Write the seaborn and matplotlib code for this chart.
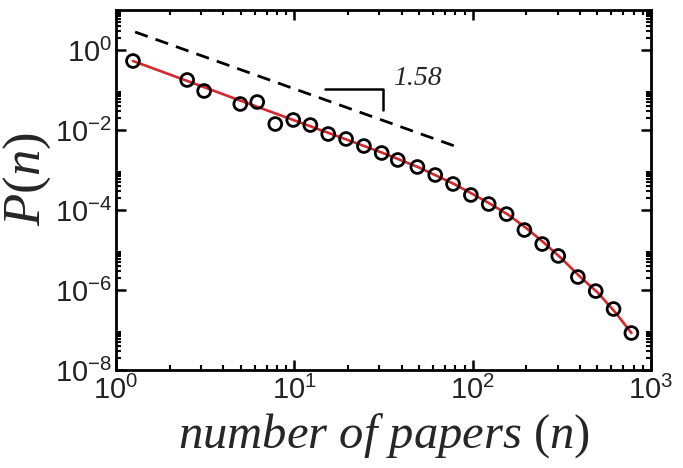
import matplotlib
matplotlib.use("Agg")
import matplotlib.pyplot as plt
import matplotlib.ticker as mticker
import seaborn as sns

# ---- data ----
n_papers = [1.245, 2.506, 3.119, 4.977, 6.194, 7.816, 9.863, 12.30, 15.49, 19.50,
            24.55, 30.90, 38.02, 48.98, 61.66, 77.62, 97.72, 123.0, 154.9, 195.0,
            245.5, 302.0, 389.0, 489.8, 616.6, 776.2]
p_n = [0.531, 0.178, 0.0944, 0.0447, 0.0501, 0.0141, 0.0178, 0.0133, 0.00794, 0.00596,
       0.00398, 0.00266, 0.00178, 0.00119, 7.5e-4, 4.47e-4, 2.37e-4, 1.41e-4, 7.9e-5, 3.16e-5,
       1.41e-5, 7.1e-6, 2.11e-6, 9.4e-7, 3.35e-7, 8.4e-8]

fit_x = [1.245, 2.512, 5.012, 10.0, 19.95, 31.62, 50.12, 79.43, 100.0, 125.9,
         158.5, 199.5, 251.2, 316.2, 398.1, 501.2, 631.0, 776.2]
fit_y = [0.531, 0.168, 0.0537, 0.0174, 0.00562, 0.00263, 0.00115, 4.37e-4, 2.51e-4, 1.41e-4,
         7.59e-5, 3.55e-5, 1.51e-5, 6.03e-6, 2.19e-6, 8.71e-7, 2.75e-7, 8.41e-8]

guide_x = [1.28, 85.1]
guide_y = [2.82, 0.00355]

bracket_x = [14.9, 31.4, 31.4]
bracket_y = [0.106, 0.106, 0.0316]
slope_label = "1.58"

x_ticks = [1, 10, 100, 1000]
x_ticklabels = [r"$\mathregular{10^{0}}$", r"$\mathregular{10^{1}}$",
                r"$\mathregular{10^{2}}$", r"$\mathregular{10^{3}}$"]
y_ticks = [1e-8, 1e-6, 1e-4, 1e-2, 1e0]
y_ticklabels = [r"$\mathregular{10^{-8}}$", r"$\mathregular{10^{-6}}$",
                r"$\mathregular{10^{-4}}$", r"$\mathregular{10^{-2}}$",
                r"$\mathregular{10^{0}}$"]

# ---- style ----
sns.set_style("ticks")
plt.rcParams["font.family"] = ["Liberation Sans", "DejaVu Sans"]
plt.rcParams["mathtext.fontset"] = "custom"
plt.rcParams["mathtext.it"] = "Liberation Serif:italic"
plt.rcParams["mathtext.rm"] = "Liberation Serif"

fig = plt.figure(figsize=(6.83, 4.68), dpi=100)
ax = fig.add_axes([116 / 683, 98 / 468, 535 / 683, 360 / 468])

red = "#d9262b"
sns.lineplot(x=fit_x, y=fit_y, ax=ax, color=red, lw=1.9, estimator=None, sort=False, zorder=2)
sns.lineplot(x=guide_x, y=guide_y, ax=ax, color="black", lw=2.0, estimator=None,
             sort=False, zorder=2)
ax.lines[-1].set_dashes([4.8, 3.0])
sns.lineplot(x=bracket_x, y=bracket_y, ax=ax, color="black", lw=1.8, estimator=None,
             sort=False, zorder=2)
sns.scatterplot(x=n_papers, y=p_n, ax=ax, marker="o", s=85, facecolor="none",
                edgecolor="black", linewidth=2.0, zorder=3)

ax.set_xscale("log")
ax.set_yscale("log")
ax.set_xlim(1, 1000)
ax.set_ylim(1e-8, 10)

ax.xaxis.set_major_locator(mticker.FixedLocator(x_ticks))
ax.xaxis.set_major_formatter(mticker.FixedFormatter(x_ticklabels))
ax.xaxis.set_minor_locator(mticker.LogLocator(base=10, subs=range(2, 10)))
ax.xaxis.set_minor_formatter(mticker.NullFormatter())

ax.yaxis.set_major_locator(mticker.FixedLocator(y_ticks))
ax.yaxis.set_major_formatter(mticker.FixedFormatter(y_ticklabels))
y_minor = [k * t for t in y_ticks for k in range(2, 10)]
ax.yaxis.set_minor_locator(mticker.FixedLocator(y_minor))
ax.yaxis.set_minor_formatter(mticker.NullFormatter())

for s in ax.spines.values():
    s.set_visible(True)
    s.set_linewidth(2.0)
    s.set_color("black")

ax.tick_params(which="both", direction="in", top=True, right=True, color="black")
ax.tick_params(which="major", length=7, width=1.8, labelsize=21, pad=4)
ax.tick_params(which="minor", length=3.5, width=1.5)
ax.tick_params(axis="y", which="major", pad=3)

for lab in ax.get_xticklabels() + ax.get_yticklabels():
    lab.set_fontfamily("Liberation Sans")
    lab.set_color("#222222")

ax.set_xlabel(r"$\mathit{number}$ $\mathit{of}$ $\mathit{papers}$ ($\mathit{n}$)",
              fontfamily="Liberation Serif", fontsize=35)
ax.set_ylabel(r"$\mathit{P}$($\mathit{n}$)", fontfamily="Liberation Serif", fontsize=38)
ax.xaxis.set_label_coords(0.5, -0.115)
ax.yaxis.set_label_coords(-0.118, 0.53)

ax.text(35.8, 0.133, slope_label, fontfamily="Liberation Serif", fontstyle="italic",
        fontsize=20, ha="left", va="baseline")

fig.savefig("out.png", dpi=100)
